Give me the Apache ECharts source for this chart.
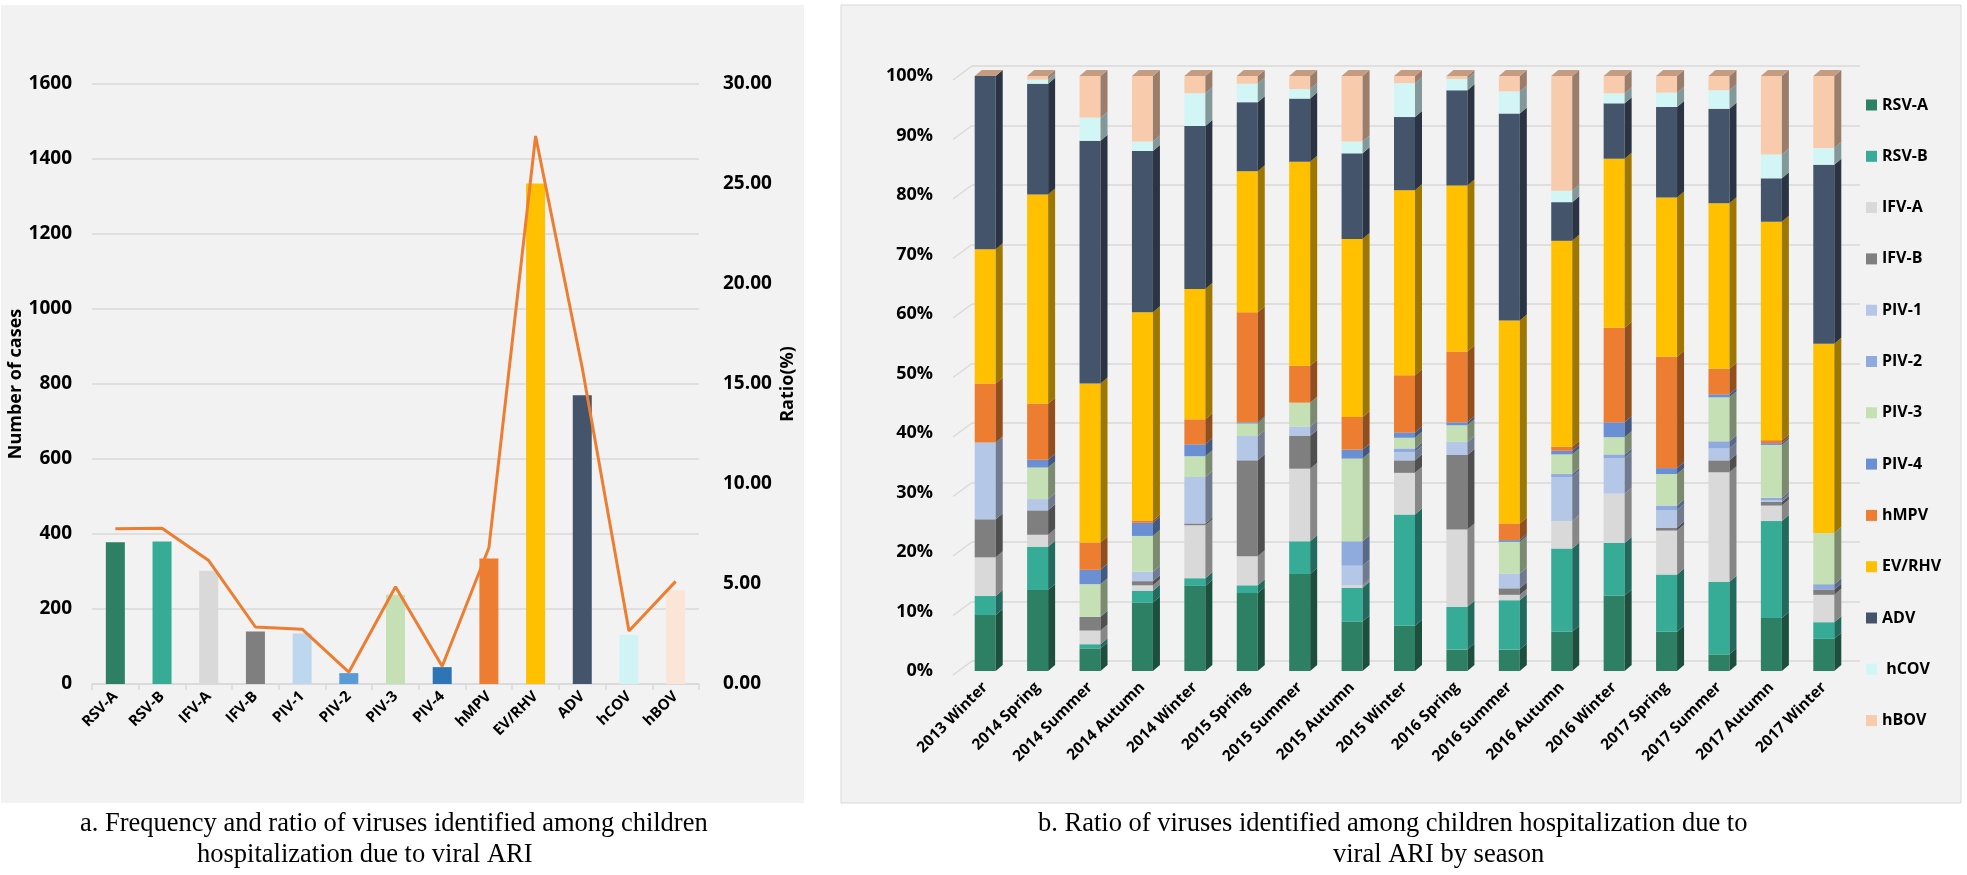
<!DOCTYPE html>
<html><head><meta charset="utf-8">
<script src="https://cdn.jsdelivr.net/npm/echarts@6/dist/echarts.min.js"></script>
<style>html,body{margin:0;padding:0;background:#fff;}#c{width:1967px;height:875px;}</style>
</head><body><div id="c"></div><script>
// ---------- Data: panel a ----------
const viruses = ['RSV-A','RSV-B','IFV-A','IFV-B','PIV-1','PIV-2','PIV-3','PIV-4','hMPV','EV/RHV','ADV','hCOV','hBOV'];
const caseCounts = [378, 380, 302, 140, 135, 29, 238, 45, 335, 1335, 770, 131, 250];
const ratioPct = [7.76, 7.79, 6.17, 2.85, 2.74, 0.59, 4.86, 0.89, 6.81, 27.4, 15.8, 2.65, 5.13];
const barColorsA = ['#2e8065','#36ab96','#d9d9d9','#7f7f7f','#bdd7ee','#5b9bd5','#c5e0b4','#2e75b6','#ed7d31','#ffc000','#44546a','#d0f4f5','#fbe5d6'];

// ---------- Data: panel b (percent of each season) ----------
const seasons = ['2013 Winter','2014 Spring','2014 Summer','2014 Autumn','2014 Winter','2015 Spring','2015 Summer','2015 Autumn','2015 Winter','2016 Spring','2016 Summer','2016 Autumn','2016 Winter','2017 Spring','2017 Summer','2017 Autumn','2017 Winter'];
const rsvA  = [9.4,13.6,3.8,11.5,14.3,13.1,16.3,8.3,7.6,3.6,3.6,6.6,12.7,6.6,2.8,8.9,5.4];
const rsvB  = [3.2,7.3,0.7,2.0,1.3,1.3,5.5,5.7,18.7,7.2,8.3,14.0,8.8,9.6,12.2,16.3,2.8];
const ifvA  = [6.5,2.0,2.3,0.9,8.9,4.9,12.2,0.4,7.0,13.0,0.9,4.6,8.3,7.4,18.4,2.6,4.6];
const ifvB  = [6.4,4.1,2.3,0.7,0.3,16.1,5.5,0,2.1,12.5,1.1,0,0,0.5,2.0,0.6,0.9];
const piv1  = [12.9,1.9,0,1.6,7.8,4.1,1.6,3.3,1.4,2.2,2.5,7.4,6.0,2.9,2.0,0.3,0];
const piv2  = [0,0,0,0,0,0,0,4.1,0.6,0,0,0.5,0.6,0.8,1.2,0.4,0.9];
const piv3  = [0,5.3,5.5,6.0,3.5,2.1,4.0,13.9,1.8,2.8,5.3,3.3,2.9,5.3,7.4,8.9,8.6];
const piv4  = [0,1.3,2.4,2.2,2.0,0.2,0,1.5,0.9,0.5,0.3,0.6,2.5,1.0,0.5,0.3,0];
const hmpv  = [9.9,9.4,4.6,0.4,4.2,18.5,6.2,5.5,9.6,11.9,2.8,0.7,15.9,18.7,4.3,0.5,0];
const evrhv = [22.6,35.2,26.7,35.0,21.9,23.7,34.3,29.9,31.1,27.9,34.1,34.6,28.4,26.8,27.8,36.7,31.8];
const adv   = [29.1,18.6,40.8,27.1,27.4,11.6,10.6,14.4,12.3,16.0,34.8,6.5,9.3,15.2,15.9,7.3,30.1];
const hcov  = [0,0.7,3.9,1.6,5.5,3.1,1.6,2.0,5.7,1.9,3.7,1.9,1.7,2.4,3.1,4.0,2.8];
const hbov  = [0,0.6,7.0,11.0,2.9,1.3,2.2,11.0,1.2,0.5,2.6,19.3,2.9,2.8,2.4,13.2,12.1];
const pctTicks = [0,10,20,30,40,50,60,70,80,90,100];

const seriesNamesB = ['RSV-A','RSV-B','IFV-A','IFV-B','PIV-1','PIV-2','PIV-3','PIV-4','hMPV','EV/RHV','ADV',' hCOV','hBOV'];
const seriesValsB = [rsvA,rsvB,ifvA,ifvB,piv1,piv2,piv3,piv4,hmpv,evrhv,adv,hcov,hbov];
const colorsB = ['#2e8065','#36ab96','#d9d9d9','#7f7f7f','#b4c7e7','#8faadc','#c5e0b4','#6a8fd2','#ed7d31','#ffc000','#44546a','#d2f5f6','#f8cbad'];

function darken(hex, f){
  const n = parseInt(hex.slice(1),16);
  const r = Math.round(((n>>16)&255)*f), g = Math.round(((n>>8)&255)*f), b = Math.round((n&255)*f);
  return 'rgb('+r+','+g+','+b+')';
}

const FONT = 'Open Sans';
const chart = echarts.init(document.getElementById('c'), null, {renderer:'canvas'});

// build stacked custom series for panel b
const DX = 7, DY = 6, BW = 21;
const stackSeries = seriesValsB.map((vals, s) => {
  const data = vals.map((v, i) => {
    let lo = 0;
    for (let k = 0; k < s; k++) lo += seriesValsB[k][i];
    return [i, lo, lo + v];
  });
  const col = colorsB[s];
  const side = darken(col, 0.62);
  const isTop = s === seriesValsB.length - 1;
  return {
    name: seriesNamesB[s], type: 'custom', xAxisIndex: 1, yAxisIndex: 2,
    itemStyle: {color: col},
    encode: {x: 0, y: [1, 2]},
    data: data,
    z: 3,
    renderItem: function(params, api){
      const i = api.value(0), lo = api.value(1), hi = api.value(2);
      const pLo = api.coord([i, lo]), pHi = api.coord([i, hi]);
      const x0 = pLo[0] - BW/2, x1 = x0 + BW;
      const children = [];
      if (hi - lo > 0) {
        children.push({type:'rect', shape:{x:x0, y:pHi[1], width:BW, height:pLo[1]-pHi[1]}, style:{fill:col}});
        children.push({type:'polygon', shape:{points:[[x1,pHi[1]],[x1+DX,pHi[1]-DY],[x1+DX,pLo[1]-DY],[x1,pLo[1]]]}, style:{fill:side}});
      }
      if (isTop) {
        children.push({type:'polygon', shape:{points:[[x0,pHi[1]],[x0+DX,pHi[1]-DY],[x1+DX,pHi[1]-DY],[x1,pHi[1]]]}, style:{fill:'#c49c82'}});
      }
      return {type:'group', children: children};
    }
  };
});

const option = {
  backgroundColor: '#ffffff',
  animation: false,
  textStyle: {fontFamily: FONT},
  graphic: [
    {type:'rect', z:-100, silent:true, shape:{x:1, y:5, width:803, height:798}, style:{fill:'#f2f2f2'}},
    {type:'rect', z:-100, silent:true, shape:{x:841, y:5, width:1120, height:798}, style:{fill:'#f2f2f2', stroke:'#d9d9d9', lineWidth:1}},
    {type:'text', left:80, top:811, style:{text:'a. Frequency and ratio of viruses identified among children', font:'26.5px "Liberation Serif"', fill:'#000'}},
    {type:'text', left:197, top:842, style:{text:'hospitalization due to viral ARI', font:'26.5px "Liberation Serif"', fill:'#000'}},
    {type:'text', left:1038, top:811, style:{text:'b. Ratio of viruses identified among children hospitalization due to', font:'26.5px "Liberation Serif"', fill:'#000'}},
    {type:'text', left:1333, top:842, style:{text:'viral ARI by season', font:'26.5px "Liberation Serif"', fill:'#000'}}
  ],
  legend: {
    orient: 'vertical', left: 1861, top: 92, itemWidth: 11, itemHeight: 11, itemGap: 35.3,
    icon: 'rect', data: seriesNamesB,
    textStyle: {fontFamily: FONT, fontWeight: 'bold', fontSize: 16, color: '#000'}
  },
  grid: [
    {left: 92, top: 84, width: 607, height: 600},
    {left: 959, top: 76, width: 891, height: 595},
    {left: 972, top: 66, width: 888, height: 595}
  ],
  xAxis: [
    {type:'category', gridIndex:0, data: viruses,
     axisLine:{lineStyle:{color:'#d9d9d9', width:1.5}},
     axisTick:{show:true, length:6, lineStyle:{color:'#d9d9d9', width:1.5}},
     axisLabel:{rotate:45, interval:0, margin:10, color:'#000', fontWeight:'bold', fontSize:15, fontFamily:FONT}},
    {type:'category', gridIndex:1, data: seasons,
     axisLine:{show:false}, axisTick:{show:false},
     axisLabel:{rotate:45, interval:0, margin:14, color:'#000', fontWeight:'bold', fontSize:15.5, fontFamily:FONT}},
    {type:'category', gridIndex:2, data: seasons, show:false}
  ],
  yAxis: [
    {type:'value', gridIndex:0, min:0, max:1600, interval:200,
     name:'Number of cases', nameLocation:'middle', nameRotate:90, nameGap:60,
     nameTextStyle:{fontFamily:FONT, fontWeight:'bold', fontSize:18, color:'#000'},
     axisLine:{show:false}, axisTick:{show:false},
     splitLine:{lineStyle:{color:'#d9d9d9', width:1.5}},
     axisLabel:{margin:20, color:'#000', fontWeight:'bold', fontSize:19, fontFamily:FONT, formatter: v => String(v)}},
    {type:'value', gridIndex:0, min:0, max:30, interval:5, position:'right',
     name:'Ratio(%)', nameLocation:'middle', nameRotate:90, nameGap:80,
     nameTextStyle:{fontFamily:FONT, fontWeight:'bold', fontSize:18, color:'#000'},
     axisLine:{show:false}, axisTick:{show:false}, splitLine:{show:false},
     axisLabel:{margin:24, color:'#000', fontWeight:'bold', fontSize:19, fontFamily:FONT,
       formatter: v => v.toFixed(2)}},
    {type:'value', gridIndex:1, min:0, max:100, interval:10,
     axisLine:{show:false}, axisTick:{show:false}, splitLine:{show:false},
     axisLabel:{margin:26, color:'#000', fontWeight:'bold', fontSize:18, fontFamily:FONT, formatter:'{value}%'}},
    {type:'value', gridIndex:2, min:0, max:100, interval:10,
     axisLine:{show:false}, axisTick:{show:false}, axisLabel:{show:false},
     splitLine:{lineStyle:{color:'#d9d9d9', width:1.5}}}
  ],
  series: [
    {type:'bar', xAxisIndex:0, yAxisIndex:0, barWidth:19,
     data: caseCounts.map((v,i)=>({value:v, itemStyle:{color:barColorsA[i]}}))},
    {type:'line', xAxisIndex:0, yAxisIndex:1, data: ratioPct, symbol:'none',
     lineStyle:{color:'#ed7d31', width:3}, itemStyle:{color:'#ed7d31'}, z:5},
    {type:'custom', xAxisIndex:1, yAxisIndex:2, silent:true, z:1,
     data: pctTicks.map(v=>[0, v]), encode:{x:0, y:1},
     renderItem: function(params, api){
       const p = api.coord([0, api.value(1)]);
       const band = api.size([1,0])[0];
       const xl = p[0] - band/2;
       return {type:'line', shape:{x1:xl-6, y1:p[1]+4, x2:xl+13, y2:p[1]-10}, style:{stroke:'#d9d9d9', lineWidth:1.5}};
     }}
  ].concat(stackSeries)
};
chart.setOption(option);
</script></body></html>
